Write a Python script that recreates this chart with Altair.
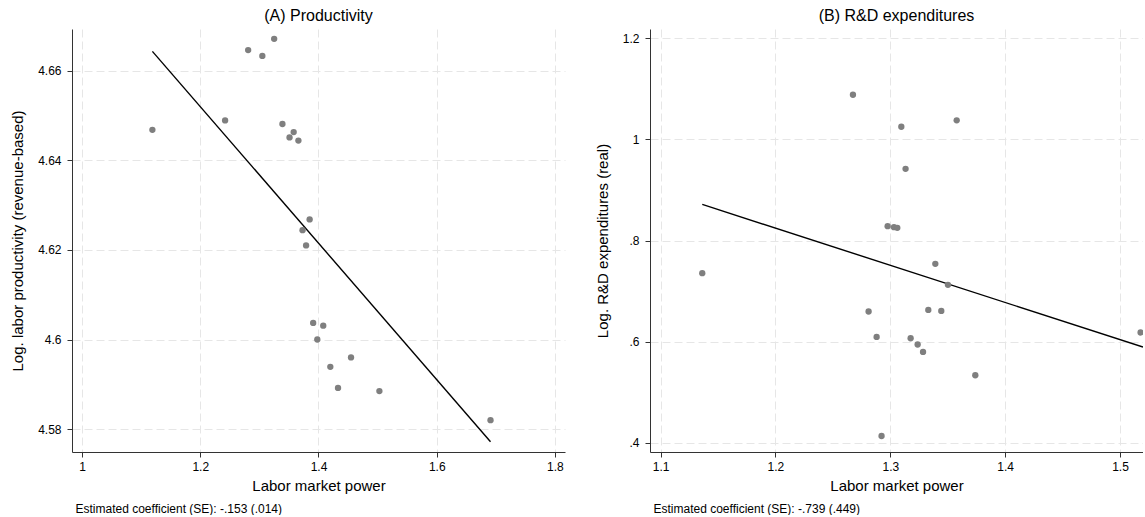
import altair as alt
import pandas as pd

FONT = "Liberation Sans"

# Panel A: Productivity
prod_x = [1.119, 1.242, 1.281, 1.305, 1.325, 1.339, 1.351, 1.358, 1.366, 1.385,
          1.373, 1.379, 1.391, 1.408, 1.398, 1.455, 1.420, 1.433, 1.503, 1.691]
prod_y = [4.6468, 4.6489, 4.6646, 4.6633, 4.6671, 4.6481, 4.6451, 4.6463, 4.6444, 4.6268,
          4.6244, 4.6210, 4.6037, 4.6031, 4.6000, 4.5960, 4.5939, 4.5892, 4.5885, 4.5820]
prod_line_x = [1.119, 1.691]
prod_line_y = [4.6643, 4.5772]
prod_xticks = [1.0, 1.2, 1.4, 1.6, 1.8]
prod_yticks = [4.58, 4.60, 4.62, 4.64, 4.66]
prod_xdomain = [0.983, 1.817]
prod_ydomain = [4.5749, 4.6693]

# Panel B: R&D expenditures
rd_x = [1.2675, 1.3096, 1.3578, 1.3133, 1.2977, 1.3032, 1.3061, 1.1363, 1.3392, 1.3502,
        1.2811, 1.3331, 1.3444, 1.2881, 1.3177, 1.3238, 1.3285, 1.3740, 1.2924, 1.5179]
rd_y = [1.0884, 1.0251, 1.0378, 0.9420, 0.8287, 0.8267, 0.8253, 0.7357, 0.7541, 0.7126,
        0.6599, 0.6631, 0.6611, 0.6097, 0.6071, 0.5947, 0.5800, 0.5339, 0.4139, 0.6184]
rd_line_x = [1.1363, 1.52]
rd_line_y = [0.8716, 0.5896]
rd_xticks = [1.1, 1.2, 1.3, 1.4, 1.5]
rd_yticks = [0.4, 0.6, 0.8, 1.0, 1.2]
rd_xdomain = [1.0908, 1.52]
rd_ydomain = [0.3822, 1.2184]

titles = ["(A) Productivity", "(B) R&D expenditures"]
ytitles = ["Log. labor productivity (revenue-based)", "Log. R&D expenditures (real)"]
xtitle = "Labor market power"
notes = ["Estimated coefficient (SE): -.153 (.014)", "Estimated coefficient (SE): -.739 (.449)"]

W, H = 493, 423


def panel(px, py, lx, ly, xdom, ydom, xt, yt, ylab_expr, title, ytitle, note):
    pts = pd.DataFrame({"x": px, "y": py})
    ln = pd.DataFrame({"x": lx, "y": ly})
    xenc = alt.X("x:Q", scale=alt.Scale(domain=xdom, nice=False, zero=False),
                 axis=alt.Axis(values=xt, title=xtitle,
                               labelExpr="format(datum.value, '.1~f')"))
    yenc = alt.Y("y:Q", scale=alt.Scale(domain=ydom, nice=False, zero=False),
                 axis=alt.Axis(values=yt, title=ytitle, labelExpr=ylab_expr))
    points = alt.Chart(pts).mark_circle(size=40, color="#7f7f7f", opacity=1, clip=True).encode(
        x=xenc, y=yenc)
    line = alt.Chart(ln).mark_line(color="black", strokeWidth=1.4, clip=True).encode(
        x="x:Q", y="y:Q")
    txt = alt.Chart(pd.DataFrame({"t": [note]})).mark_text(
        align="left", baseline="middle", fontSize=12, font=FONT, color="black"
    ).encode(x=alt.value(3.5), y=alt.value(H + 57), text="t:N")
    return alt.layer(line, points, txt).properties(
        width=W, height=H, title=alt.TitleParams(title))


left = panel(prod_x, prod_y, prod_line_x, prod_line_y, prod_xdomain, prod_ydomain,
             prod_xticks, prod_yticks, "format(datum.value, '.2~f')",
             titles[0], ytitles[0], notes[0])
right = panel(rd_x, rd_y, rd_line_x, rd_line_y, rd_xdomain, rd_ydomain,
              rd_xticks, rd_yticks,
              "datum.value < 1 ? replace(format(datum.value, '.1f'), '0.', '.') : format(datum.value, '.1~f')",
              titles[1], ytitles[1], notes[1])

chart = alt.hconcat(left, right, spacing=30).configure(
    padding={"left": 10, "top": 8, "right": 0, "bottom": 0},
    background="white",
).configure_view(stroke=None).configure_axis(
    labelFont=FONT, titleFont=FONT, labelFontSize=12, titleFontSize=15,
    labelColor="black", titleColor="black", titleFontWeight="normal",
    domainColor="#333333", tickColor="#333333", tickSize=5,
    gridColor="#e6e6e6", gridDash=[8, 4], gridWidth=1,
).configure_axisX(
    labelPadding=4, titlePadding=6,
).configure_axisY(
    labelPadding=6, titlePadding=12,
).configure_title(
    font=FONT, fontSize=16, fontWeight="normal", color="black", anchor="middle", offset=5,
)

chart.save("out.html", embed_options={"renderer": "svg", "actions": False})
